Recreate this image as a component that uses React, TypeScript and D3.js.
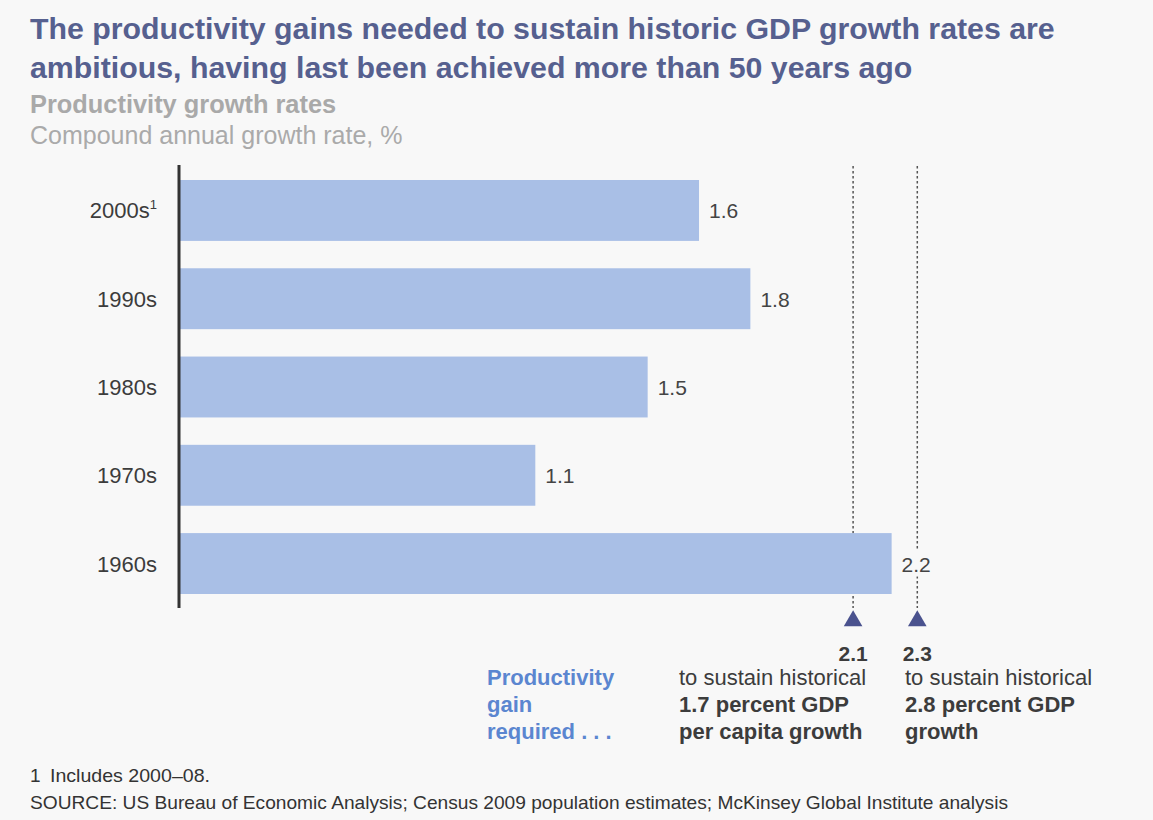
import React from "react";
import * as d3 from "d3";

const categories = ["2000s", "1990s", "1980s", "1970s", "1960s"];
const superscripts = ["1", "", "", "", ""];
const values = [1.62, 1.78, 1.46, 1.11, 2.22];
const markerValues = [2.1, 2.3];
const markerLines = [
  ["to sustain historical", "1.7 percent GDP", "per capita growth"],
  ["to sustain historical", "2.8 percent GDP", "growth"],
];
const legendLines = ["Productivity", "gain", "required . . ."];

const W = 1153;
const H = 820;
const FONT = "Liberation Sans, Arial, Helvetica, sans-serif";
const BG = "#f8f8f8";

export default function App() {
  const x = d3.scaleLinear().domain([0, 1]).range([179, 500]);
  const y = d3
    .scaleBand<string>()
    .domain(categories)
    .range([180, 594])
    .paddingInner(0.31)
    .paddingOuter(0);
  const fmt = d3.format(".1f");
  const tri = d3.symbol().type(d3.symbolTriangle).size(150)();

  return (
    <svg
      width={W}
      height={H}
      style={{ position: "absolute", left: 0, top: 0, background: BG }}
      fontFamily={FONT}
    >
      <rect x={0} y={0} width={W} height={H} fill={BG} />
      <text x={30} y={39} fontSize={30.3} fontWeight="bold" fill="#56608f">
        The productivity gains needed to sustain historic GDP growth rates are
      </text>
      <text x={30} y={78} fontSize={30.3} fontWeight="bold" fill="#56608f">
        ambitious, having last been achieved more than 50 years ago
      </text>
      <text x={30} y={113} fontSize={25.4} fontWeight="bold" fill="#a9a9a9">
        Productivity growth rates
      </text>
      <text x={30} y={144} fontSize={25} fill="#aaaaaa">
        Compound annual growth rate, %
      </text>

      {markerValues.map((v, i) => (
        <line
          key={"ml" + i}
          x1={x(v)}
          x2={x(v)}
          y1={166}
          y2={608}
          stroke="#555"
          strokeWidth={1.5}
          strokeDasharray="2.5,2.5"
        />
      ))}

      {categories.map((c, i) => {
        const yy = y(c)!;
        const bw = y.bandwidth();
        const endX = x(values[i]);
        const label = fmt(values[i]);
        const overlaps = endX + 10 < x(markerValues[1]) && endX + 45 > x(markerValues[1]);
        return (
          <g key={c}>
            <rect x={x(0)} y={yy} width={endX - x(0)} height={bw} fill="#a9bfe6" />
            <text
              x={157}
              y={yy + bw / 2 + 8}
              fontSize={22}
              fill="#3c3c3c"
              textAnchor="end"
            >
              {c}
              {superscripts[i] ? (
                <tspan fontSize={13} dy={-9}>
                  {superscripts[i]}
                </tspan>
              ) : null}
            </text>
            {overlaps ? (
              <rect x={endX + 9} y={yy + bw / 2 - 13} width={34} height={26} fill={BG} />
            ) : null}
            <text x={endX + 10} y={yy + bw / 2 + 8} fontSize={21} fill="#444">
              {label}
            </text>
          </g>
        );
      })}

      <line x1={x(0)} x2={x(0)} y1={165} y2={608} stroke="#333" strokeWidth={3} />

      {markerValues.map((v, i) => (
        <g key={"mk" + i}>
          <path d={tri!} transform={`translate(${x(v)},${621})`} fill="#4a528e" />
          <text
            x={x(v)}
            y={661}
            fontSize={21}
            fontWeight="bold"
            fill="#3c3c3c"
            textAnchor="middle"
          >
            {fmt(v)}
          </text>
          {markerLines[i].map((t, j) => (
            <text
              key={j}
              x={i === 0 ? 679 : 905}
              y={685 + j * 27}
              fontSize={22}
              fontWeight={j === 0 ? "normal" : "bold"}
              fill="#3c3c3c"
            >
              {t}
            </text>
          ))}
        </g>
      ))}

      {legendLines.map((t, j) => (
        <text
          key={"lg" + j}
          x={487}
          y={685 + j * 27}
          fontSize={22}
          fontWeight="bold"
          fill="#5b86d0"
        >
          {t}
        </text>
      ))}

      <text x={30} y={782} fontSize={19} fill="#333">
        1
      </text>
      <text x={50} y={782} fontSize={19} fill="#333" textLength={160} lengthAdjust="spacingAndGlyphs">
        Includes 2000–08.
      </text>
      <text x={30} y={809} fontSize={19} fill="#333" textLength={978} lengthAdjust="spacingAndGlyphs">
        SOURCE: US Bureau of Economic Analysis; Census 2009 population estimates; McKinsey Global Institute analysis
      </text>
    </svg>
  );
}
